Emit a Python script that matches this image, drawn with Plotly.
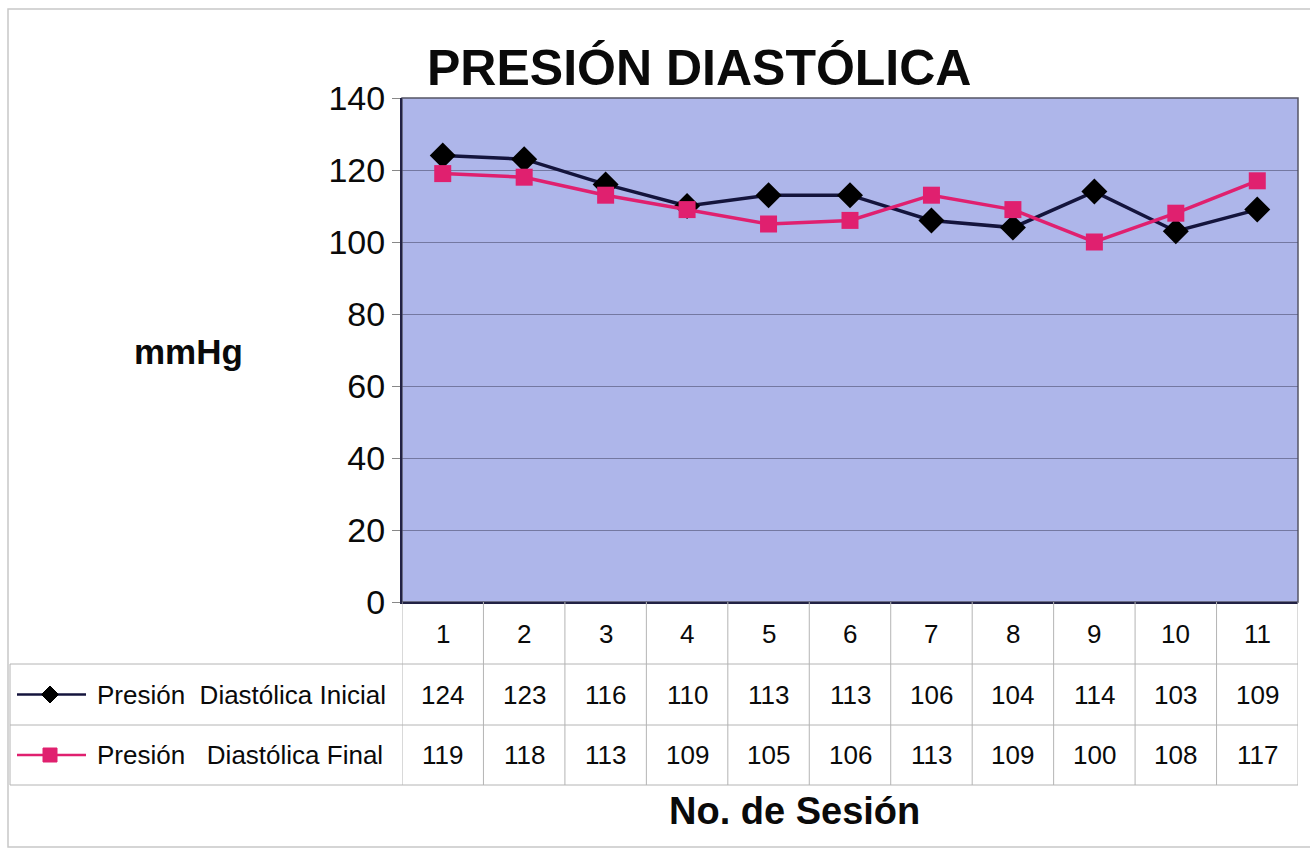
import plotly.graph_objects as go

# Data
sesiones = [1, 2, 3, 4, 5, 6, 7, 8, 9, 10, 11]
inicial = [124, 123, 116, 110, 113, 113, 106, 104, 114, 103, 109]
final = [119, 118, 113, 109, 105, 106, 113, 109, 100, 108, 117]
nombre_inicial = "Presión  Diastólica Inicial"
nombre_final = "Presión   Diastólica Final"
y_ticks = [0, 20, 40, 60, 80, 100, 120, 140]

W, H = 1310, 849
FONT = "Liberation Sans, Arial, sans-serif"

def px(x):
    return x / W

def py(y):
    return 1 - y / H

# plot-area pixel box
L, R, T, B = 402, 1298, 98, 602
# table rows (pixel y)
ROW_TOP, ROW1, ROW2, ROW_BOT = 602, 664, 725, 785
TABLE_LEFT = 10

COL_INI = "#14143c"
COL_FIN = "#e0206f"

fig = go.Figure()
fig.add_trace(go.Scatter(
    x=sesiones, y=inicial, mode="lines+markers", name=nombre_inicial,
    line=dict(color=COL_INI, width=3.5),
    marker=dict(symbol="diamond", size=20, color="#000000"),
))
fig.add_trace(go.Scatter(
    x=sesiones, y=final, mode="lines+markers", name=nombre_final,
    line=dict(color=COL_FIN, width=3.5),
    marker=dict(symbol="square", size=17, color=COL_FIN),
))

shapes = []
annotations = []

def label(x, y, text, size, xref="paper", xanchor="center", bold=False):
    annotations.append(dict(x=x, y=y, xref=xref, yref="paper",
                            text=f"<b>{text}</b>" if bold else text,
                            xanchor=xanchor, yanchor="middle", showarrow=False,
                            font=dict(family=FONT, size=size, color="#0a0a0a")))

# outer chart border
shapes.append(dict(type="rect", xref="paper", yref="paper",
                   x0=px(8), x1=px(1316), y0=py(847), y1=py(9),
                   line=dict(color="#c8c8c8", width=1.5), layer="below"))

# data table grid
grid = dict(color="#b4b4b4", width=1)
for yy in (ROW1, ROW2, ROW_BOT):
    shapes.append(dict(type="line", xref="paper", yref="paper",
                       x0=px(TABLE_LEFT), x1=px(R), y0=py(yy), y1=py(yy), line=grid))
shapes.append(dict(type="line", xref="paper", yref="paper",
                   x0=px(TABLE_LEFT), x1=px(TABLE_LEFT), y0=py(ROW1), y1=py(ROW_BOT), line=grid))
for k in range(len(sesiones) + 1):
    shapes.append(dict(type="line", xref="x", yref="paper",
                       x0=k + 0.5, x1=k + 0.5, y0=py(ROW_TOP), y1=py(ROW_BOT), line=grid))

# table contents
for s, a, b in zip(sesiones, inicial, final):
    label(s, py((ROW_TOP + ROW1) / 2 + 1), str(s), 26, xref="x")
    label(s, py((ROW1 + ROW2) / 2), str(a), 26, xref="x")
    label(s, py((ROW2 + ROW_BOT) / 2), str(b), 26, xref="x")

# legend keys in the table
for yy, col, sym, name in (((ROW1 + ROW2) / 2, COL_INI, "diamond", nombre_inicial),
                           ((ROW2 + ROW_BOT) / 2, COL_FIN, "square", nombre_final)):
    shapes.append(dict(type="line", xref="paper", yref="paper",
                       x0=px(17), x1=px(86), y0=py(yy), y1=py(yy),
                       line=dict(color=col, width=2.5)))
    if sym == "diamond":
        cx, cy, r = 50, yy, 8.5
        shapes.append(dict(type="path", xref="paper", yref="paper",
                           path=f"M {px(cx)} {py(cy - r)} L {px(cx + r)} {py(cy)} L {px(cx)} {py(cy + r)} L {px(cx - r)} {py(cy)} Z",
                           fillcolor="#000000", line=dict(color="#000000", width=1)))
    else:
        cx, cy, r = 50, yy, 7
        shapes.append(dict(type="rect", xref="paper", yref="paper",
                           x0=px(cx - r), x1=px(cx + r), y0=py(cy + r), y1=py(cy - r),
                           fillcolor=col, line=dict(color=col, width=1)))
    label(px(95), py(yy), name, 26, xanchor="left")

# titles
label(px(699), py(68), "PRESIÓN DIASTÓLICA", 50, bold=True)
label(px(188), py(351), "mmHg", 35, bold=True)
label(px(795), py(811), "No. de Sesión", 38, bold=True)

fig.update_layout(
    width=W, height=H, autosize=False,
    margin=dict(l=0, r=0, t=0, b=0, pad=0, autoexpand=False),
    paper_bgcolor="#ffffff", plot_bgcolor="#aeb6ea",
    showlegend=False,
    shapes=shapes, annotations=annotations,
    xaxis=dict(domain=[px(L), px(R)], range=[0.5, 11.5], showticklabels=False,
               showgrid=False, zeroline=False, showline=True, linecolor="#222244",
               linewidth=2, mirror=False, ticks="", automargin=False),
    yaxis=dict(domain=[py(B), py(T)], range=[0, 140], tickvals=y_ticks,
               showgrid=True, gridcolor="rgba(70,70,100,0.55)", gridwidth=1,
               zeroline=False, showline=True, linecolor="#222244", linewidth=2,
               ticks="outside", ticklen=8, tickcolor="#888888", automargin=False,
               tickfont=dict(family=FONT, size=34, color="#0a0a0a")),
)
# thin top/right frame of the plot area
fig.add_shape(type="rect", xref="paper", yref="paper", x0=px(L), x1=px(R), y0=py(B), y1=py(T),
              line=dict(color="#555566", width=1.5), layer="below")

fig.write_html("out.html", config={"responsive": False})
